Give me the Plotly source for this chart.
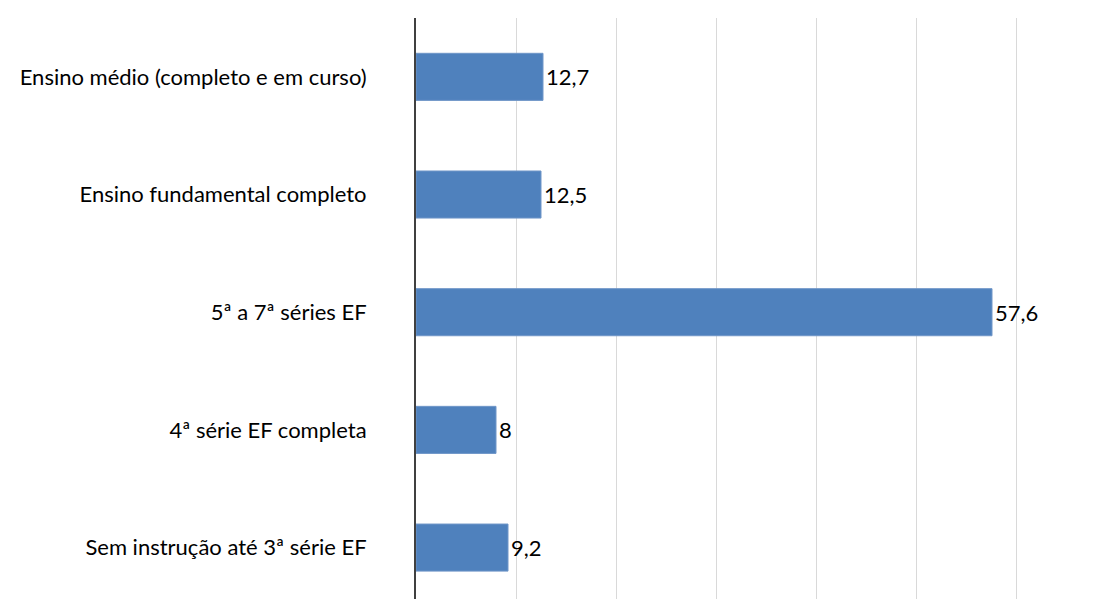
import plotly.graph_objects as go

categories = [
    "Ensino médio (completo e em curso)",
    "Ensino fundamental completo",
    "5ª a 7ª séries EF",
    "4ª série EF completa",
    "Sem instrução até 3ª série EF",
]
values = [12.7, 12.5, 57.6, 8, 9.2]
labels = [f"{v:g}".replace(".", ",") for v in values]

FONT = "Lato"
FS = 22

fig = go.Figure(
    go.Bar(
        x=values,
        y=categories,
        orientation="h",
        text=labels,
        textposition="outside",
        cliponaxis=False,
        marker=dict(color="#4f81bd", line=dict(color="#7096c8", width=1)),
        textfont=dict(family=FONT, size=FS, color="#000000"),
        width=0.4,
    )
)

fig.update_layout(
    width=1104,
    height=599,
    margin=dict(l=416, r=83, t=18, b=0),
    plot_bgcolor="white",
    paper_bgcolor="white",
    showlegend=False,
    font=dict(family=FONT, size=FS, color="#000000"),
    xaxis=dict(
        range=[0, 60.5],
        tickvals=[10, 20, 30, 40, 50, 60],
        showticklabels=False,
        showgrid=True,
        gridcolor="#d9d9d9",
        gridwidth=1,
        zeroline=False,
        showline=False,
        fixedrange=True,
    ),
    yaxis=dict(
        categoryorder="array",
        categoryarray=categories,
        range=[4.437, -0.5],
        showline=True,
        linecolor="#404040",
        linewidth=2,
        showgrid=False,
        ticks="",
        ticklabelstandoff=43,
        tickfont=dict(family=FONT, size=FS, color="#000000"),
        fixedrange=True,
    ),
)

fig.write_html(
    "out.html",
    config={"displayModeBar": False},
    post_script="document.body.style.margin='0';document.body.style.overflow='hidden';",
)
